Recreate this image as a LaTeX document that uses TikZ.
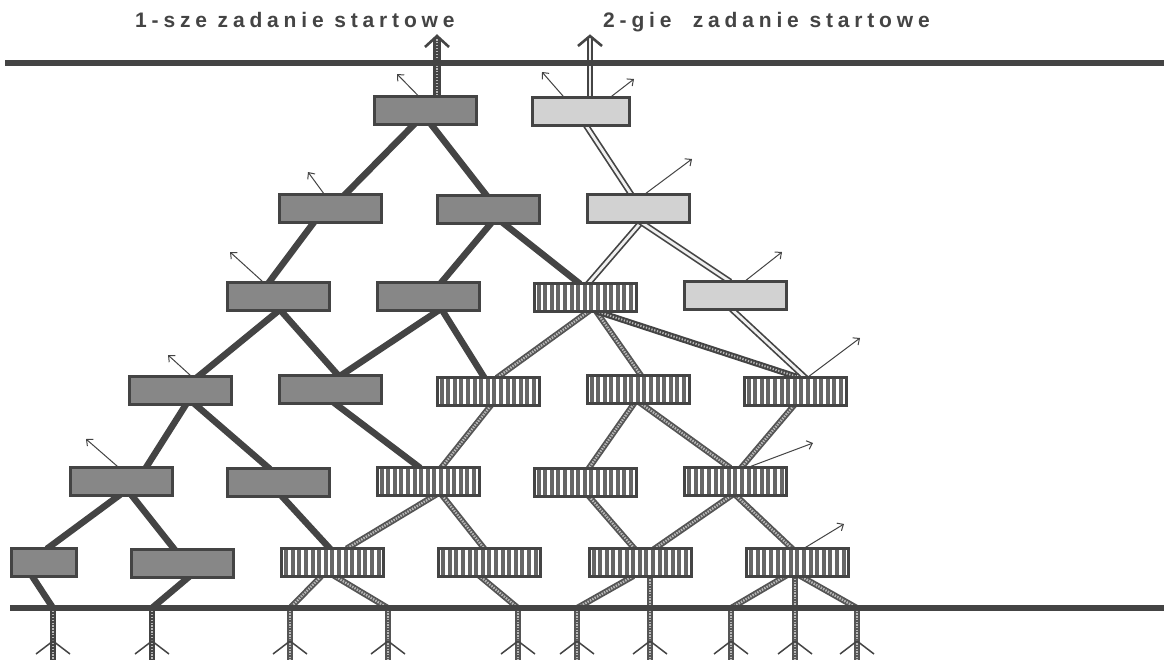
\documentclass[tikz,border=0pt]{standalone}
\usepackage{fontspec}
\newfontfamily\titlefont{Liberation Sans}[LetterSpace=23]
\usetikzlibrary{arrows.meta,calc}
\pgfdeclarelayer{back}
\pgfsetlayers{back,main}
\definecolor{ink}{HTML}{444444}
\definecolor{dkfill}{HTML}{878787}
\definecolor{ltfill}{HTML}{D2D2D2}
\definecolor{stripe}{HTML}{666666}
\definecolor{ropec}{HTML}{555555}
\definecolor{ropein}{HTML}{B8B8B8}
\begin{document}
\begin{tikzpicture}[x=1pt,y=-1pt,
  box/.style={draw=ink, line width=3pt, minimum width=102pt, minimum height=28pt, inner sep=0pt},
  darkbox/.style={box, fill=dkfill},
  lightbox/.style={box, fill=ltfill},
  stripebox/.style={box, fill=white, path picture={
      \foreach \i in {0,...,14} {
        \fill[stripe] ([xshift=\i*6.6pt+2.6pt]path picture bounding box.south west)
          rectangle ([xshift=\i*6.6pt+6.6pt]path picture bounding box.north west);}}},
  dk/.style={draw=ink, line width=6.5pt, shorten <=-4pt, shorten >=-4pt},
  rope/.style={draw=ropec, line width=6pt, shorten <=-4pt, shorten >=-4pt,
      postaction={draw=ropein, line width=2.4pt, dash pattern=on 1.5pt off 1.2pt}},
  ropedk/.style={draw=ink, line width=6pt, shorten <=-4pt, shorten >=-4pt,
      postaction={draw=ropein, line width=2pt, dash pattern=on 1.3pt off 1.6pt}},
  dbl/.style={draw=ink, line width=6.2pt, shorten <=-4pt, shorten >=-4pt,
      postaction={draw=white!88!gray, line width=2.8pt}},
  leg/.style={draw=ropec, line width=6pt,
      postaction={draw=ropein, line width=2.2pt, dash pattern=on 1.5pt off 1.2pt}},
  legdk/.style={draw=ink, line width=6pt,
      postaction={draw=ropein, line width=2pt, dash pattern=on 1.3pt off 1.6pt}},
  root/.style={draw=ink, line width=1.5pt},
  thin/.style={draw=ink, line width=1pt, shorten <=-2pt, -{Straight Barb[length=5pt,width=9pt]}},
  headv/.style={draw=ink, line width=2.6pt},
  rule/.style={draw=ink, line width=6pt},
  title/.style={font=\titlefont\bfseries\fontsize{21}{24}\selectfont, text=ink, inner sep=0pt}
]
\useasboundingbox (0,0) rectangle (1164,659);
\begin{pgfonlayer}{back}
  \fill[white] (0,0) rectangle (1164,659);
\end{pgfonlayer}

% titles
\node[title, anchor=base west] (t1) at (135,27) {1-sze zadanie startowe};
\node[title, anchor=base west] (t2) at (603,27) {2-gie\ \ zadanie startowe};

% row 1
\node[darkbox]  (A1) at (425.5,110) {};
\node[lightbox, minimum width=97pt] (B1) at (581,111.5) {};
% row 2
\node[darkbox]  (D21) at (330.5,208) {};
\node[darkbox]  (D22) at (488,209) {};
\node[lightbox] (L23) at (638.5,208) {};
% row 3
\node[darkbox]   (D31) at (278,296.5) {};
\node[darkbox]   (D32) at (428.5,296) {};
\node[stripebox] (S33) at (585,297) {};
\node[lightbox]  (L34) at (735.5,295) {};
% row 4
\node[darkbox]   (D41) at (180.5,390.5) {};
\node[darkbox]   (D42) at (330.5,389.5) {};
\node[stripebox] (S43) at (488,391) {};
\node[stripebox] (S44) at (638,389.5) {};
\node[stripebox] (S45) at (795,391) {};
% row 5
\node[darkbox]   (D51) at (121,481.5) {};
\node[darkbox]   (D52) at (278.5,482) {};
\node[stripebox] (S53) at (428,481) {};
\node[stripebox] (S54) at (585,482) {};
\node[stripebox] (S55) at (735.5,481) {};
% row 6
\node[darkbox, minimum width=65pt] (D61) at (44,562) {};
\node[darkbox]   (D62) at (182,563) {};
\node[stripebox] (S61) at (332.5,562) {};
\node[stripebox] (S62) at (489.5,562.5) {};
\node[stripebox] (S63) at (640,562.5) {};
\node[stripebox] (S64) at (797.5,562) {};

% rules, leg feet and arrow tips
\coordinate (tl0) at (5,62.5);
\coordinate (tl1) at (1164,62.5);
\coordinate (bl0) at (10,608);
\coordinate (bl1) at (1164,608);
\foreach \n/\x in {1/53,2/152,3/290,4/388,5/518,6/577,7/650,8/731,9/795,10/857}
  \coordinate (g\n) at (\x,608);
\coordinate (upA) at (437,36);
\coordinate (upB) at (590,36);
\coordinate (aA1) at (397,74);
\coordinate (aB1a) at (542,72);
\coordinate (aB1b) at (634,79);
\coordinate (aD21) at (308,172);
\coordinate (aD31) at (230,252);
\coordinate (aL23) at (692,159);
\coordinate (aL34) at (782,252);
\coordinate (aD41) at (168,355);
\coordinate (aD51) at (86,439);
\coordinate (aS45) at (860,338);
\coordinate (aS55) at (813,443);
\coordinate (aS64) at (844,524);

\begin{pgfonlayer}{back}
  % first start job: dark links
  \draw[dk] ($(A1.south)+(-12.5,0)$) -- ($(D21.north)+(16.5,0)$);
  \draw[dk] ($(A1.south)+(6.5,0)$) -- ($(D22.north)+(-3,0)$);
  \draw[dk] ($(D21.south)+(-17.5,0)$) -- ($(D31.north)+(-8,0)$);
  \draw[dk] ($(D22.south)+(2,0)$) -- ($(D32.north)+(14.5,0)$);
  \draw[dk] ($(D22.south)+(17,0)$) -- ($(S33.north)+(-8,0)$);
  \draw[dk] ($(D31.south)+(-1,0)$) -- ($(D41.north)+(19.5,0)$);
  \draw[dk] ($(D31.south)+(4,0)$) -- ($(D42.north)+(6.5,0)$);
  \draw[dk] ($(D32.south)+(8.5,0)$) -- ($(D42.north)+(12.5,0)$);
  \draw[dk] ($(D32.south)+(14.5,0)$) -- ($(S43.north)+(-5,0)$);
  \draw[dk] ($(D41.south)+(4.5,0)$) -- ($(D51.north)+(26,0)$);
  \draw[dk] ($(D41.south)+(16.5,0)$) -- ($(D52.north)+(-11.5,0)$);
  \draw[dk] ($(D42.south)+(6.5,0)$) -- ($(S53.north)+(-11,0)$);
  \draw[dk] ($(D51.south)+(-4,0)$) -- ($(D61.north)+(6,0)$);
  \draw[dk] ($(D51.south)+(12,0)$) -- ($(D62.north)+(-9,0)$);
  \draw[dk] ($(D52.south)+(4.5,0)$) -- ($(S61.north)+(-4.5,0)$);
  \draw[dk, shorten >=-1pt] ($(D61.south)+(-11,0)$) -- (g1);
  \draw[dk, shorten >=-1pt] ($(D62.south)+(5,0)$) -- (g2);

  % second start job: hollow links
  \draw[dbl] ($(B1.south)+(6,0)$) -- ($(L23.north)+(-8.5,0)$);
  \draw[dbl] ($(L23.south)+(1.5,0)$) -- ($(S33.north)+(5,0)$);
  \draw[dbl] ($(L23.south)+(4.5,0)$) -- ($(L34.north)+(-8.5,0)$);
  \draw[dbl] ($(L34.south)+(-2.5,0)$) -- ($(S45.north)+(8,0)$);

  % shared tasks: rope links
  \draw[rope] ($(S33.south)+(2,0)$) -- ($(S43.north)+(12,0)$);
  \draw[rope] ($(S33.south)+(12,0)$) -- ($(S44.north)+(2,0)$);
  \draw[ropedk] ($(S33.south)+(15,0)$) -- ($(S45.north)+(-2,0)$);
  \draw[rope] ($(S43.south)+(2,0)$) -- ($(S53.north)+(15,0)$);
  \draw[rope] ($(S44.south)+(-5,0)$) -- ($(S54.north)+(5,0)$);
  \draw[rope] ($(S44.south)+(5,0)$) -- ($(S55.north)+(-8.5,0)$);
  \draw[rope] ($(S45.south)+(-2,0)$) -- ($(S55.north)+(7.5,0)$);
  \draw[rope] ($(S53.south)+(5,0)$) -- ($(S61.north)+(17.5,0)$);
  \draw[rope] ($(S53.south)+(15,0)$) -- ($(S62.north)+(-6.5,0)$);
  \draw[rope] ($(S54.south)+(5,0)$) -- ($(S63.north)+(-7,0)$);
  \draw[rope] ($(S55.south)+(-5.5,0)$) -- ($(S63.north)+(17,0)$);
  \draw[rope] ($(S55.south)+(1.5,0)$) -- ($(S64.north)+(-7.5,0)$);
  \draw[rope, shorten >=-1pt] ($(S61.south)+(-12.5,0)$) -- (g3);
  \draw[rope, shorten >=-1pt] ($(S61.south)+(4.5,0)$) -- (g4);
  \draw[rope, shorten >=-1pt] ($(S62.south)+(-7.5,0)$) -- (g5);
  \draw[rope, shorten >=-1pt] ($(S63.south)+(-10,0)$) -- (g6);
  \draw[rope, shorten >=-1pt] ($(S63.south)+(10,0)$) -- (g7);
  \draw[rope, shorten >=-1pt] ($(S64.south)+(-14.5,0)$) -- (g8);
  \draw[rope, shorten >=-1pt] ($(S64.south)+(-2.5,0)$) -- (g9);
  \draw[rope, shorten >=-1pt] ($(S64.south)+(5.5,0)$) -- (g10);

  % legs below the lower rule
  \foreach \n in {1,2} \draw[legdk] (g\n) -- ++(0,53);
  \foreach \n in {3,...,10} \draw[leg] (g\n) -- ++(0,53);

  % upward outputs of the two start jobs
  \draw[ropedk, line width=8pt, shorten >=2pt] ($(A1.north)+(11.5,0)$) -- (upA);
  \draw[dbl, shorten >=2pt] ($(B1.north)+(9,0)$) -- (upB);

  % small side outputs
  \draw[thin] ($(A1.north)+(-8.5,0)$) -- (aA1);
  \draw[thin] ($(B1.north)+(-18,0)$) -- (aB1a);
  \draw[thin] ($(B1.north)+(31,0)$) -- (aB1b);
  \draw[thin] ($(D21.north)+(-7.5,0)$) -- (aD21);
  \draw[thin] ($(D31.north)+(-16,0)$) -- (aD31);
  \draw[thin] ($(L23.north)+(8.5,0)$) -- (aL23);
  \draw[thin] ($(L34.north)+(11.5,0)$) -- (aL34);
  \draw[thin] ($(D41.north)+(9.5,0)$) -- (aD41);
  \draw[thin] ($(D51.north)+(-4,0)$) -- (aD51);
  \draw[thin] ($(S45.north)+(15,0)$) -- (aS45);
  \draw[thin] ($(S55.north)+(17.5,0)$) -- (aS55);
  \draw[thin] ($(S64.north)+(9.5,0)$) -- (aS64);
\end{pgfonlayer}

% rules
\draw[rule] (tl0) -- (tl1);
\draw[rule] (bl0) -- (bl1);

% arrow heads of the start-job outputs
\draw[headv] ($(upA)+(-12,11)$) -- (upA) -- ($(upA)+(12,11)$);
\draw[headv] ($(upB)+(-12,10)$) -- (upB) -- ($(upB)+(12,10)$);

% root feet of the legs
\foreach \n in {1,...,10}
  \draw[root] ($(g\n)+(-17,46)$) -- ($(g\n)+(0,33)$) -- ($(g\n)+(17,46)$);
\end{tikzpicture}
\end{document}
